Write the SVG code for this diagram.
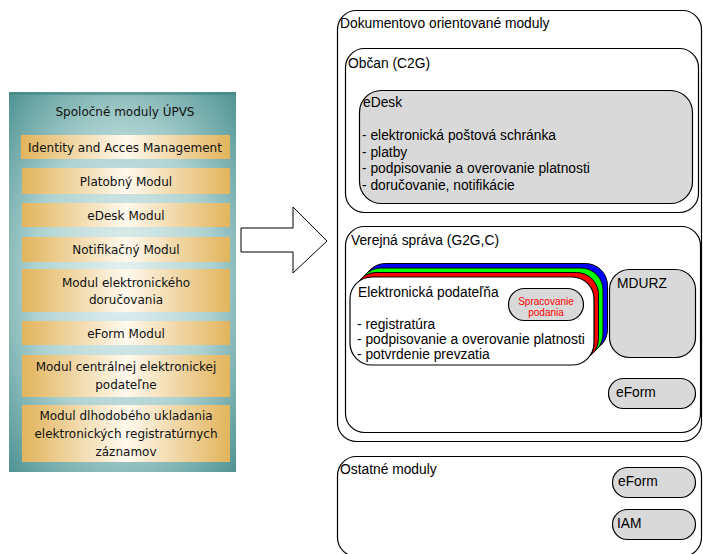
<svg xmlns="http://www.w3.org/2000/svg" width="703" height="554" viewBox="0 0 703 554">
  <defs>
    <radialGradient id="teal" cx="0.5" cy="0.5" r="0.7">
      <stop offset="0" stop-color="#e6f3f2"/>
      <stop offset="0.55" stop-color="#afd3d2"/>
      <stop offset="1" stop-color="#509494"/>
    </radialGradient>
    <linearGradient id="gold" x1="0" y1="0" x2="1" y2="0">
      <stop offset="0" stop-color="#e2b45c"/>
      <stop offset="0.5" stop-color="#fff9ee"/>
      <stop offset="1" stop-color="#e2b45c"/>
    </linearGradient>
  </defs>
  <style>
    .mod { fill: url(#gold); }
    .lt { font-family: "DejaVu Sans", Verdana, sans-serif; font-size: 12px; fill: #111; text-anchor: middle; }
    .box { fill: #fff; stroke: #000; stroke-width: 1.2; }
    .gray { fill: #d9d9d9; stroke: #000; stroke-width: 1.2; }
    .t { font-family: "Liberation Sans", Arial, sans-serif; font-size: 13.8px; fill: #000; }
    .red { font-family: "Liberation Sans", Arial, sans-serif; font-size: 10px; fill: #ff0000; text-anchor: middle; }
  </style>

  <!-- Shared modules panel -->
  <g id="upvs">
    <rect x="9" y="92" width="227" height="380" fill="url(#teal)"/>
    <rect x="9" y="92" width="227" height="3" fill="#3f8383" opacity="0.6"/>
    <text class="lt" x="125" y="116">Spoločné moduly ÚPVS</text>
  </g>
  <g id="iam-modul">
    <rect class="mod" x="21" y="135" width="209" height="24"/>
    <text class="lt" x="125" y="152">Identity and Acces Management</text>
  </g>
  <g id="platobny">
    <rect class="mod" x="22" y="168" width="208" height="26"/>
    <text class="lt" x="126" y="186">Platobný Modul</text>
  </g>
  <g id="edesk-modul">
    <rect class="mod" x="22" y="203" width="208" height="24"/>
    <text class="lt" x="126" y="220">eDesk Modul</text>
  </g>
  <g id="notifikacny">
    <rect class="mod" x="22" y="237" width="208" height="25"/>
    <text class="lt" x="126" y="254">Notifikačný Modul</text>
  </g>
  <g id="dorucovanie">
    <rect class="mod" x="22" y="269" width="208" height="43"/>
    <text class="lt" x="126" y="287">Modul elektronického</text>
    <text class="lt" x="126" y="304">doručovania</text>
  </g>
  <g id="eform-modul">
    <rect class="mod" x="22" y="321" width="208" height="24"/>
    <text class="lt" x="126" y="338">eForm Modul</text>
  </g>
  <g id="podatelna-modul">
    <rect class="mod" x="22" y="355" width="208" height="42"/>
    <text class="lt" x="126" y="371">Modul centrálnej elektronickej</text>
    <text class="lt" x="126" y="389">podateľne</text>
  </g>
  <g id="dlhodobe">
    <rect class="mod" x="22" y="405" width="208" height="57"/>
    <text class="lt" x="126" y="420">Modul dlhodobého ukladania</text>
    <text class="lt" x="126" y="438">elektronických registratúrnych</text>
    <text class="lt" x="126" y="456">záznamov</text>
  </g>

  <!-- Block arrow -->
  <g id="connectors">
    <polygon points="241,228 293,228 293,207 327,241 293,273 293,252 241,252" fill="#fff" stroke="#000" stroke-width="1"/>
  </g>

  <!-- Document-oriented modules -->
  <g id="dokumentove">
    <rect class="box" x="337.5" y="10.5" width="364" height="431" rx="19"/>
    <text class="t" x="340" y="28">Dokumentovo orientované moduly</text>
  </g>
  <g id="obcan">
    <rect class="box" x="345.5" y="48.5" width="353" height="164" rx="19"/>
    <text class="t" x="348" y="68">Občan (C2G)</text>
  </g>
  <g id="edesk">
    <rect class="gray" x="359.5" y="90.5" width="333" height="113" rx="22"/>
    <text class="t" x="363" y="107">eDesk</text>
    <text class="t" x="362" y="140">- elektronická poštová schránka</text>
    <text class="t" x="362" y="157">- platby</text>
    <text class="t" x="362" y="173">- podpisovanie a overovanie platnosti</text>
    <text class="t" x="362" y="190">- doručovanie, notifikácie</text>
  </g>
  <g id="verejna">
    <rect class="box" x="345.5" y="226.5" width="355" height="206" rx="19"/>
    <text class="t" x="351" y="245">Verejná správa (G2G,C)</text>
  </g>
  <g id="podatelna">
    <rect x="363.5" y="263.5" width="244" height="88" rx="22" fill="#0000ff" stroke="#000" stroke-width="1"/>
    <rect x="359" y="268" width="244" height="88" rx="22" fill="#00ff00" stroke="#000" stroke-width="1"/>
    <rect x="354.5" y="272.5" width="244" height="88" rx="22" fill="#ff0000" stroke="#000" stroke-width="1"/>
    <rect class="box" x="350" y="277" width="244" height="88" rx="22"/>
    <text class="t" x="358" y="297">Elektronická podateľňa</text>
    <text class="t" x="357" y="329">- registratúra</text>
    <text class="t" x="357" y="344">- podpisovanie a overovanie platnosti</text>
    <text class="t" x="357" y="359">- potvrdenie prevzatia</text>
  </g>
  <g id="spracovanie">
    <rect class="gray" x="508.5" y="288.5" width="75" height="32" rx="16"/>
    <text class="red" x="546" y="305">Spracovanie</text>
    <text class="red" x="546" y="316">podania</text>
  </g>
  <g id="mdurz">
    <rect class="gray" x="609.5" y="269.5" width="86" height="88" rx="20"/>
    <text class="t" x="617" y="288">MDURZ</text>
  </g>
  <g id="eform-vs">
    <rect class="gray" x="608.5" y="378.5" width="87" height="30" rx="15"/>
    <text class="t" x="616" y="397">eForm</text>
  </g>

  <!-- Other modules -->
  <g id="ostatne">
    <rect class="box" x="337.5" y="456.5" width="364" height="100" rx="19"/>
    <text class="t" x="340" y="474">Ostatné moduly</text>
  </g>
  <g id="eform-om">
    <rect class="gray" x="612.5" y="467.5" width="83" height="30" rx="15"/>
    <text class="t" x="618" y="486">eForm</text>
  </g>
  <g id="iam">
    <rect class="gray" x="612.5" y="509.5" width="83" height="30" rx="15"/>
    <text class="t" x="617" y="528">IAM</text>
  </g>
</svg>
